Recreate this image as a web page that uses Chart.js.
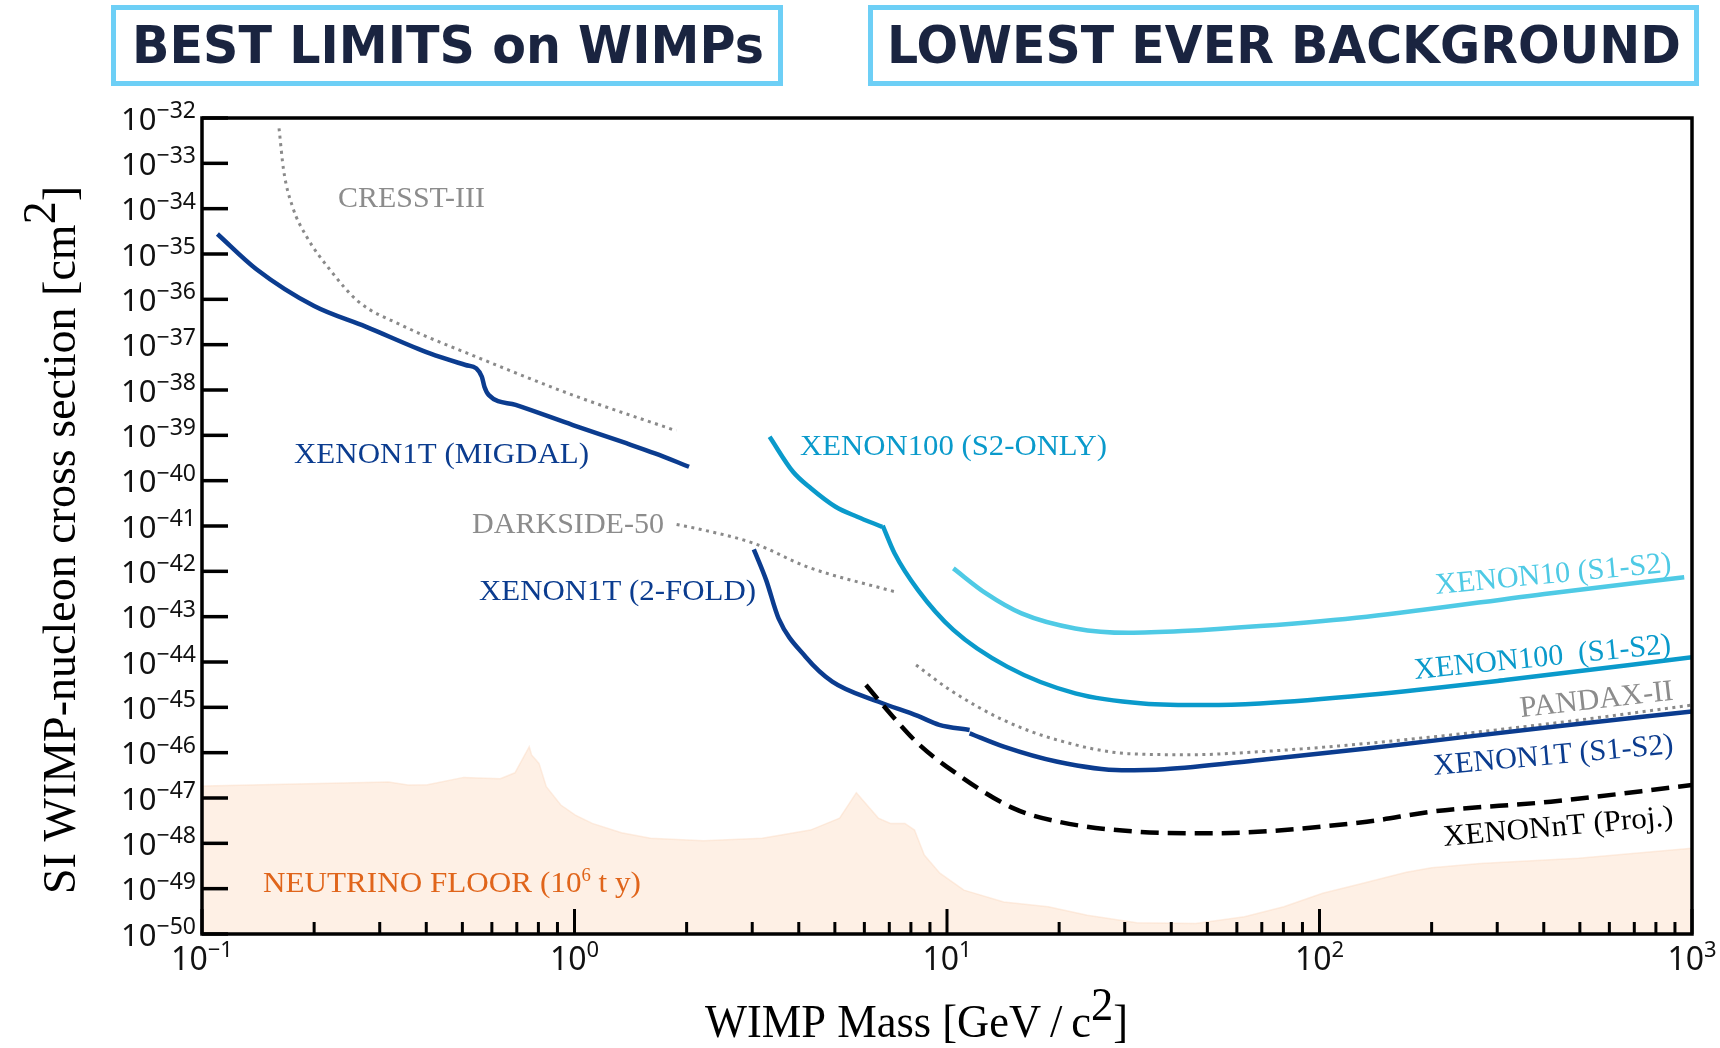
<!DOCTYPE html>
<html lang="en">
  <head>
    <meta charset="UTF-8" />
    <title>Best limits on WIMPs</title>
    <script src="https://cdn.jsdelivr.net/npm/chart.js"></script>
    <style>
      body { margin: 0; background: #fff; }
      #wrap { width: 1720px; height: 1048px; }
    </style>
  </head>
  <body>
    <div id="wrap"><canvas id="limitsChart" width="1720" height="1048"></canvas></div>

    <script>
      // axis decades (exponents)
      const xTickExps = [-1, 0, 1, 2, 3];
      const yTickExps = [-32, -33, -34, -35, -36, -37, -38, -39, -40, -41, -42, -43, -44, -45, -46, -47, -48, -49, -50];

      // neutrino floor (10^6 t y)
      const floorMass = [0.1, 0.1016, 0.317, 0.357, 0.403, 0.504, 0.632, 0.692, 0.756, 0.767, 0.803, 0.84, 0.919, 1.005, 1.116, 1.337, 1.6, 2.22, 3.19, 4.3, 5.15, 5.71, 6.54, 7.05, 7.71, 8.18, 8.69, 9.57, 11.1, 14.2, 18.7, 23.8, 32.3, 46.5, 62.9, 80.2, 102, 130, 171, 200, 270, 496, 1000];
      const floorXsec = [1.84e-47, 1.84e-47, 2.25e-47, 1.93e-47, 1.96e-47, 2.85e-47, 2.66e-47, 3.6e-47, 1.35e-46, 8.9e-47, 5.8e-47, 1.77e-47, 7.0e-48, 4.2e-48, 2.75e-48, 1.71e-48, 1.29e-48, 1.14e-48, 1.29e-48, 1.96e-48, 3.6e-48, 1.31e-47, 3.6e-48, 2.75e-48, 2.75e-48, 1.96e-48, 5.5e-49, 2.2e-49, 9.3e-50, 5.1e-50, 4.0e-50, 2.6e-50, 1.77e-50, 1.7e-50, 2.4e-50, 4.0e-50, 7.9e-50, 1.3e-49, 2.3e-49, 2.9e-49, 3.6e-49, 4.7e-49, 7.8e-49];

      // CRESST-III
      const cresstMass = [0.161, 0.1656, 0.175, 0.191, 0.221, 0.263, 0.343, 0.557, 0.99, 1.877];
      const cresstXsec = [5.9e-33, 7.1e-34, 1.1e-34, 2.4e-35, 4.4e-36, 8.9e-37, 2.7e-37, 5.0e-38, 7.7e-39, 1.26e-39];

      // XENON1T (MIGDAL)
      const migdalMass = [0.11, 0.14, 0.2, 0.275, 0.409, 0.51, 0.545, 0.564, 0.573, 0.589, 0.695, 0.99, 1.377, 1.644, 2.03];
      const migdalXsec = [2.76e-35, 4.6e-36, 7.1e-37, 2.5e-37, 6.4e-38, 3.56e-38, 3.0e-38, 1.96e-38, 1.18e-38, 7.7e-39, 4.7e-39, 1.69e-39, 6.7e-40, 4.0e-40, 2.03e-40];

      // DARKSIDE-50
      const darksideMass = [1.88, 2.17, 3.03, 4.21, 7.38];
      const darksideXsec = [1.08e-41, 8.5e-42, 4.15e-42, 1.26e-42, 3.4e-43];

      // XENON100 (S2-only) and XENON100 (S1-S2)
      const x100s2Mass = [3.34, 3.86, 4.31, 5.02, 5.74, 6.7];
      const x100s2Xsec = [9.3e-40, 1.57e-40, 6.8e-41, 2.66e-41, 1.6e-41, 9.6e-42];
      const x100Mass = [6.72, 7.23, 8.35, 10.4, 14.5, 22.1, 33.6, 49.9, 69.2, 134, 315, 1000];
      const x100Xsec = [1.02e-41, 2.5e-42, 3.9e-43, 5.1e-44, 7.9e-45, 2.03e-45, 1.22e-45, 1.12e-45, 1.22e-45, 1.87e-45, 4.0e-45, 1.27e-44];

      // XENON10 (S1-S2)
      const x10Mass = [10.4, 12.7, 15.85, 22.1, 30.7, 42.8, 69.2, 134, 418, 953];
      const x10Xsec = [1.16e-42, 3.3e-43, 1.18e-43, 5.5e-44, 4.4e-44, 4.8e-44, 6.2e-44, 1.0e-43, 3.3e-43, 7.4e-43];

      // XENON1T (2-fold) and XENON1T (S1-S2)
      const x1t2fMass = [3.03, 3.27, 3.53, 4.17, 4.92, 6.55, 8.35, 9.53, 11.5];
      const x1t2fXsec = [3.05e-42, 6.4e-43, 9.2e-44, 1.31e-44, 3.7e-45, 1.33e-45, 6.45e-46, 4.1e-46, 3.16e-46];
      const x1tMass = [11.5, 14.2, 19.8, 29.4, 38.3, 69.2, 134, 418, 1000];
      const x1tXsec = [2.67e-46, 1.36e-46, 6.3e-47, 4.1e-47, 4.3e-47, 6.9e-47, 1.24e-46, 3.7e-46, 8.1e-46];

      // PANDAX-II
      const pandaxMass = [8.26, 10.2, 14.2, 19.8, 30.7, 45, 69.2, 134, 418, 1000];
      const pandaxXsec = [8.6e-45, 2.4e-45, 5.2e-46, 1.9e-46, 9.5e-47, 9.0e-47, 1.05e-46, 1.6e-46, 4.4e-46, 1.12e-45];

      // XENONnT projection
      const xntMass = [6.06, 7.16, 8.35, 9.95, 15.1, 19.9, 32.5, 49.8, 134, 200, 418, 1000];
      const xntXsec = [3.1e-45, 6.2e-46, 1.6e-46, 5.0e-47, 5.9e-48, 3.0e-48, 1.8e-48, 1.66e-48, 3.0e-48, 5.0e-48, 8.3e-48, 1.93e-47];

      const DARK_BLUE = "#0b3c8f";
      const MID_CYAN = "#0a9acb";
      const LIGHT_CYAN = "#4fcae5";
      const GREY = "#8a8a8a";

      const toPoints = (mass, xsec) => mass.map((m, i) => ({ x: m, y: xsec[i] }));

      function lineSet(label, mass, xsec, color, extra) {
        return Object.assign(
          {
            label: label,
            data: toPoints(mass, xsec),
            borderColor: color,
            borderWidth: 4.5,
            pointRadius: 0,
            fill: false,
            cubicInterpolationMode: "monotone",
          },
          extra || {}
        );
      }
      const dotted = { borderWidth: 3, borderDash: [3, 4.5] };

      // draws text made of several pieces (for superscripts), optionally squeezed to a width
      function drawRich(ctx, parts, opt) {
        const widths = parts.map((p) => {
          ctx.font = p.font;
          return ctx.measureText(p.text).width;
        });
        const total = widths.reduce((a, b) => a + b, 0);
        ctx.save();
        ctx.fillStyle = opt.color || "#000";
        ctx.textBaseline = "alphabetic";
        ctx.textAlign = "left";
        ctx.translate(opt.x, opt.y);
        if (opt.angle) ctx.rotate((opt.angle * Math.PI) / 180);
        if (opt.width) ctx.scale(opt.width / total, 1);
        let cx = opt.align === "center" ? -total / 2 : opt.align === "right" ? -total : 0;
        parts.forEach((p, i) => {
          ctx.font = p.font;
          ctx.fillText(p.text, cx, p.dy || 0);
          cx += widths[i];
        });
        ctx.restore();
      }

      const serif = (px) => px + 'px "Liberation Serif"';
      const sans = (px) => px + 'px "Noto Sans"';
      const minus = (n) => (n < 0 ? "\u2212" + -n : String(n));

      const curveLabels = [
        { text: "CRESST-III", x: 338, y: 207, angle: 0, color: "#8c8c8c", width: 147 },
        { text: "XENON1T (MIGDAL)", x: 294, y: 463, angle: 0, color: DARK_BLUE, width: 295 },
        { text: "XENON100 (S2-ONLY)", x: 800, y: 455, angle: 0, color: MID_CYAN, width: 307 },
        { text: "DARKSIDE-50", x: 472, y: 533, angle: 0, color: "#8c8c8c", width: 192 },
        { text: "XENON1T (2-FOLD)", x: 479, y: 600, angle: 0, color: DARK_BLUE, width: 277 },
        { text: "XENON10 (S1-S2)", x: 1436, y: 594, angle: -5.4, color: LIGHT_CYAN, width: 237 },
        { text: "XENON100  (S1-S2)", x: 1415, y: 679, angle: -5.8, color: MID_CYAN, width: 258 },
        { text: "PANDAX-II", x: 1521, y: 717, angle: -6.5, color: "#8c8c8c", width: 154 },
        { text: "XENON1T (S1-S2)", x: 1434, y: 775, angle: -5.2, color: DARK_BLUE, width: 241 },
        { text: "XENONnT (Proj.)", x: 1444, y: 846, angle: -5.2, color: "#000", width: 231 },
      ];

      const decorations = {
        id: "decorations",
        afterDatasetsDraw(chart) {
          const { ctx, chartArea: a, scales } = chart;
          const xs = scales.x;
          const ys = scales.y;

          ctx.save();
          ctx.strokeStyle = "#000";

          // y ticks (inside)
          ctx.lineWidth = 3.5;
          yTickExps.forEach((e) => {
            const py = ys.getPixelForValue(Math.pow(10, e));
            ctx.beginPath();
            ctx.moveTo(a.left, py);
            ctx.lineTo(a.left + 26, py);
            ctx.stroke();
          });

          // x ticks, major and minor
          ctx.lineWidth = 3;
          xTickExps.forEach((d) => {
            for (let m = 1; m <= 9; m++) {
              if (d === 3 && m > 1) break;
              const px = xs.getPixelForValue(m * Math.pow(10, d));
              ctx.beginPath();
              ctx.moveTo(px, a.bottom);
              ctx.lineTo(px, a.bottom - (m === 1 ? 25 : 12));
              ctx.stroke();
            }
          });

          // frame
          ctx.lineWidth = 3.5;
          ctx.strokeRect(a.left, a.top, a.right - a.left, a.bottom - a.top);
          ctx.restore();

          // y tick labels
          yTickExps.forEach((e) => {
            const py = ys.getPixelForValue(Math.pow(10, e));
            drawRich(
              ctx,
              [
                { text: "10", font: sans(31), dy: 11.5 },
                { text: minus(e), font: sans(23), dy: 0 },
              ],
              { x: a.left - 6, y: py, align: "right", color: "#111" }
            );
          });

          // x tick labels
          xTickExps.forEach((d) => {
            const px = xs.getPixelForValue(Math.pow(10, d));
            drawRich(
              ctx,
              [
                { text: "10", font: sans(32), dy: 0 },
                { text: minus(d), font: sans(22), dy: -13 },
              ],
              { x: px, y: a.bottom + 36, align: "center", color: "#111" }
            );
          });

          // axis titles
          drawRich(
            ctx,
            [
              { text: "WIMP Mass [GeV\u2009/\u2009c", font: serif(46) },
              { text: "2", font: serif(46), dy: -17 },
              { text: "]", font: serif(46) },
            ],
            { x: 705, y: 1037, width: 423 }
          );
          drawRich(
            ctx,
            [
              { text: "SI WIMP-nucleon cross section [cm", font: serif(46) },
              { text: "2", font: serif(46), dy: -20 },
              { text: "]", font: serif(46) },
            ],
            { x: 75, y: 540, angle: -90, align: "center", width: 708 }
          );

          // curve labels
          curveLabels.forEach((l) => {
            drawRich(ctx, [{ text: l.text, font: serif(30) }], l);
          });
          drawRich(
            ctx,
            [
              { text: "NEUTRINO FLOOR (10", font: serif(30) },
              { text: "6", font: serif(18), dy: -11 },
              { text: " t y)", font: serif(30) },
            ],
            { x: 263, y: 892, width: 378, color: "#e0651b" }
          );

          // headline boxes
          ctx.save();
          ctx.strokeStyle = "#6dcff6";
          ctx.lineWidth = 5;
          ctx.strokeRect(113.5, 7.5, 667, 76);
          ctx.strokeRect(870.5, 7.5, 826, 76);
          ctx.restore();
          const headFont = 'bold 52px "DejaVu Sans"';
          drawRich(ctx, [{ text: "BEST LIMITS on WIMPs", font: headFont }], { x: 132, y: 63, width: 632, color: "#1a2440" });
          drawRich(ctx, [{ text: "LOWEST EVER BACKGROUND", font: headFont }], { x: 887, y: 63, width: 794, color: "#1a2440" });
        },
      };

      const ctx = document.getElementById("limitsChart").getContext("2d");

      new Chart(ctx, {
        type: "line",
        data: {
          datasets: [
            lineSet("XENONnT (Proj.)", xntMass, xntXsec, "#000", { borderWidth: 4.5, borderDash: [18, 9] }),
            lineSet("XENON1T (S1-S2)", x1tMass, x1tXsec, DARK_BLUE),
            lineSet("XENON1T (2-FOLD)", x1t2fMass, x1t2fXsec, DARK_BLUE),
            lineSet("XENON10 (S1-S2)", x10Mass, x10Xsec, LIGHT_CYAN),
            lineSet("XENON100 (S1-S2)", x100Mass, x100Xsec, MID_CYAN),
            lineSet("XENON100 (S2-ONLY)", x100s2Mass, x100s2Xsec, MID_CYAN),
            lineSet("XENON1T (MIGDAL)", migdalMass, migdalXsec, DARK_BLUE),
            lineSet("PANDAX-II", pandaxMass, pandaxXsec, GREY, dotted),
            lineSet("DARKSIDE-50", darksideMass, darksideXsec, GREY, dotted),
            lineSet("CRESST-III", cresstMass, cresstXsec, GREY, dotted),
            {
              label: "Neutrino floor",
              data: toPoints(floorMass, floorXsec),
              borderColor: "rgba(250, 218, 192, 0.45)",
              borderWidth: 1.5,
              backgroundColor: "#fef0e5",
              pointRadius: 0,
              tension: 0,
              fill: "start",
              order: 1,
            },
          ],
        },
        options: {
          responsive: false,
          animation: false,
          devicePixelRatio: 1,
          layout: {
            padding: { left: 202, right: 28, top: 118, bottom: 114 },
          },
          plugins: {
            legend: { display: false },
            tooltip: { enabled: false },
          },
          scales: {
            x: { type: "logarithmic", min: 0.1, max: 1000, display: false },
            y: { type: "logarithmic", min: 1e-50, max: 1e-32, display: false },
          },
        },
        plugins: [decorations],
      });
    </script>
  </body>
</html>
